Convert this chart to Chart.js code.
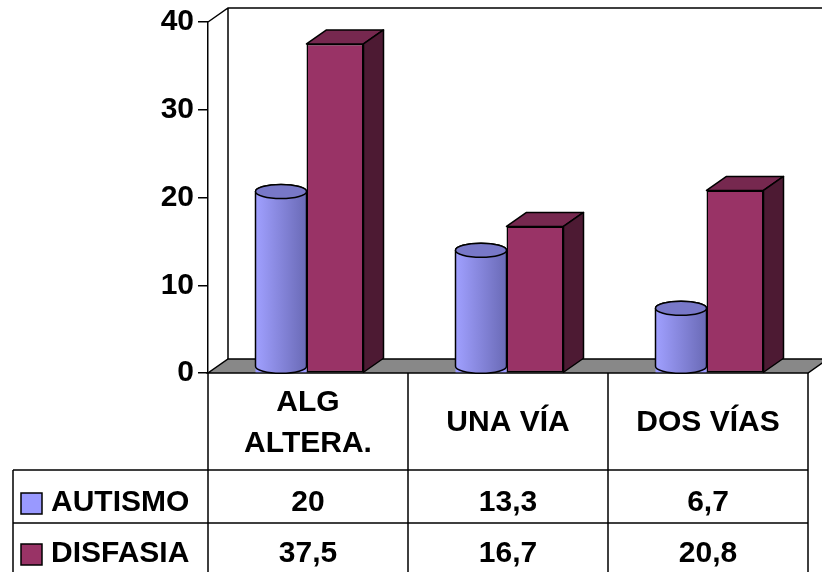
<!DOCTYPE html>
<html>
<head>
<meta charset="utf-8">
<script src="https://cdn.jsdelivr.net/npm/chart.js@4/dist/chart.umd.min.js"></script>
<style>
  html, body { margin: 0; padding: 0; background: #ffffff; }
  #wrap { width: 822px; height: 572px; position: relative; }
</style>
</head>
<body>
<div id="wrap"><canvas id="c" width="822" height="572"></canvas></div>
<script>
// Categories (multi-line labels as arrays), series and their values
const categories = [["ALG", "ALTERA."], "UNA VÍA", "DOS VÍAS"];
const seriesNames = ["AUTISMO", "DISFASIA"];
const autismo = [20, 13.3, 6.7];
const disfasia = [37.5, 16.7, 20.8];
const yTicks = [0, 10, 20, 30, 40];

// Depth of the 3D projection
const DX = 20, DY = 14;
const FAMILY = "'Liberation Sans', Arial, sans-serif";
const FONT = "bold 30px " + FAMILY;
const LINE = 1.5;

const colors = {
  cylLight: "#a0a0ff", cylDark: "#6a6ab6", cylTop: "#7878c8", cylSwatch: "#9999ff",
  boxFront: "#993366", boxTop: "#76284f", boxSide: "#4d1a33",
  floor: "#888888"
};

const fmt = v => String(v).replace(".", ",");

function cylGradient(ctx, x1, x2) {
  const g = ctx.createLinearGradient(x1, 0, x2, 0);
  g.addColorStop(0, colors.cylLight);
  g.addColorStop(1, colors.cylDark);
  return g;
}

function drawCylinder(ctx, x1, x2, top, base) {
  const rx = (x2 - x1) / 2, cx = (x1 + x2) / 2, ry = 7;
  const yt = top - 6, yb = base - ry + 1;
  ctx.save();
  ctx.beginPath();
  ctx.moveTo(x1, yt);
  ctx.lineTo(x1, yb);
  ctx.ellipse(cx, yb, rx, ry, 0, Math.PI, 0, true);
  ctx.lineTo(x2, yt);
  ctx.ellipse(cx, yt, rx, ry, 0, 0, Math.PI, true);
  ctx.closePath();
  ctx.fillStyle = cylGradient(ctx, x1, x2);
  ctx.fill();
  ctx.lineWidth = LINE;
  ctx.strokeStyle = "#000";
  ctx.stroke();
  ctx.beginPath();
  ctx.ellipse(cx, yt, rx, ry, 0, 0, Math.PI * 2);
  ctx.fillStyle = colors.cylTop;
  ctx.fill();
  ctx.stroke();
  ctx.restore();
}

function drawBoxFaces(ctx, x1, x2, top, base) {
  ctx.save();
  ctx.lineWidth = LINE;
  ctx.strokeStyle = "#000";
  ctx.lineJoin = "round";
  // top face
  ctx.beginPath();
  ctx.moveTo(x1, top);
  ctx.lineTo(x1 + DX, top - DY);
  ctx.lineTo(x2 + DX, top - DY);
  ctx.lineTo(x2, top);
  ctx.closePath();
  ctx.fillStyle = colors.boxTop;
  ctx.fill();
  ctx.stroke();
  // side face
  ctx.beginPath();
  ctx.moveTo(x2, top);
  ctx.lineTo(x2 + DX, top - DY);
  ctx.lineTo(x2 + DX, base - DY);
  ctx.lineTo(x2, base);
  ctx.closePath();
  ctx.fillStyle = colors.boxSide;
  ctx.fill();
  ctx.stroke();
  ctx.restore();
}

// Walls and floor of the 3D plot box, plus the depth faces of the bars
const wallsPlugin = {
  id: "walls",
  beforeDatasetsDraw(chart) {
    const { ctx, chartArea: a } = chart;
    ctx.save();
    ctx.lineWidth = LINE;
    ctx.strokeStyle = "#000";
    // floor
    ctx.beginPath();
    ctx.moveTo(a.left, a.bottom);
    ctx.lineTo(a.right, a.bottom);
    ctx.lineTo(a.right + DX, a.bottom - DY);
    ctx.lineTo(a.left + DX, a.bottom - DY);
    ctx.closePath();
    ctx.fillStyle = colors.floor;
    ctx.fill();
    ctx.stroke();
    // side and back wall edges
    ctx.beginPath();
    ctx.moveTo(a.left, a.top);
    ctx.lineTo(a.left + DX, a.top - DY);
    ctx.lineTo(chart.width + 10, a.top - DY);
    ctx.moveTo(a.left + DX, a.top - DY);
    ctx.lineTo(a.left + DX, a.bottom - DY);
    ctx.stroke();
    ctx.restore();
  },
  afterDatasetsDraw(chart) {
    const ctx = chart.ctx;
    chart.getDatasetMeta(1).data.forEach(el => {
      const p = el.getProps(["x", "y", "base", "width"], true);
      drawBoxFaces(ctx, p.x - p.width / 2, p.x + p.width / 2, p.y, p.base);
    });
    chart.getDatasetMeta(0).data.forEach(el => {
      const p = el.getProps(["x", "y", "base", "width"], true);
      drawCylinder(ctx, p.x - p.width / 2, p.x + p.width / 2, p.y, p.base);
    });
  }
};

// Data table below the plot, aligned with the category scale
const tablePlugin = {
  id: "dataTable",
  afterDraw(chart) {
    const { ctx, chartArea: a } = chart;
    const xs = chart.scales.x;
    const n = categories.length;
    const cw = (a.right - a.left) / n;
    const top = a.bottom;
    const row1 = 470, row2 = 523, bottom = chart.height + 2;
    const leftEdge = 13;
    ctx.save();
    ctx.lineWidth = LINE;
    ctx.strokeStyle = "#000";
    ctx.beginPath();
    for (let i = 0; i <= n; i++) {
      const x = a.left + i * cw;
      ctx.moveTo(x, top);
      ctx.lineTo(x, bottom);
    }
    ctx.moveTo(leftEdge, row1); ctx.lineTo(a.right, row1);
    ctx.moveTo(leftEdge, row2); ctx.lineTo(a.right, row2);
    ctx.moveTo(leftEdge, row1); ctx.lineTo(leftEdge, bottom);
    ctx.stroke();

    ctx.font = FONT;
    ctx.fillStyle = "#000";
    ctx.textAlign = "center";
    ctx.textBaseline = "middle";
    categories.forEach((c, i) => {
      const cx = xs.getPixelForTick(i);
      const lines = Array.isArray(c) ? c : [c];
      const lh = 40.5;
      const y0 = 423 - (lines.length - 1) * lh / 2;
      lines.forEach((t, j) => ctx.fillText(t, cx, y0 + j * lh));
    });
    const rowsY = [503, 554];
    const series = [autismo, disfasia];
    const swatch = [colors.cylSwatch, colors.boxFront];
    series.forEach((vals, r) => {
      vals.forEach((v, i) => ctx.fillText(fmt(v), xs.getPixelForTick(i), rowsY[r]));
      ctx.fillStyle = swatch[r];
      ctx.fillRect(21, rowsY[r] - 10, 21, 21);
      ctx.strokeRect(21, rowsY[r] - 10, 21, 21);
      ctx.fillStyle = "#000";
      ctx.textAlign = "left";
      ctx.fillText(seriesNames[r], 51, rowsY[r]);
      ctx.textAlign = "center";
    });
    ctx.restore();
  }
};

new Chart(document.getElementById("c"), {
  type: "bar",
  data: {
    labels: categories,
    datasets: [
      {
        label: seriesNames[0],
        data: autismo,
        backgroundColor: ctx => {
          const el = ctx.element;
          if (!el || !isFinite(el.x)) return colors.cylSwatch;
          return cylGradient(ctx.chart.ctx, el.x - el.width / 2, el.x + el.width / 2);
        },
        borderWidth: 0,
        barPercentage: 51 / 54,
        categoryPercentage: 0.54
      },
      {
        label: seriesNames[1],
        data: disfasia,
        backgroundColor: colors.boxFront,
        borderColor: "#000",
        borderWidth: LINE,
        borderSkipped: false,
        barPercentage: 57 / 54,
        categoryPercentage: 0.54
      }
    ]
  },
  options: {
    responsive: false,
    animation: false,
    devicePixelRatio: 1,
    layout: { padding: { top: 21, right: 14, bottom: 199, left: 0 } },
    plugins: { legend: { display: false }, tooltip: { enabled: false } },
    scales: {
      x: { display: false },
      y: {
        min: 0, max: 40,
        afterBuildTicks: s => { s.ticks = yTicks.map(v => ({ value: v })); },
        afterFit: s => { s.width = 208; },
        border: { display: true, color: "#000", width: LINE },
        grid: { drawOnChartArea: false, drawTicks: true, tickLength: 10, color: "#000", lineWidth: LINE },
        ticks: { color: "#000", font: { family: FAMILY, size: 30, weight: "bold" }, padding: 4 }
      }
    }
  },
  plugins: [wallsPlugin, tablePlugin]
});
</script>
</body>
</html>
